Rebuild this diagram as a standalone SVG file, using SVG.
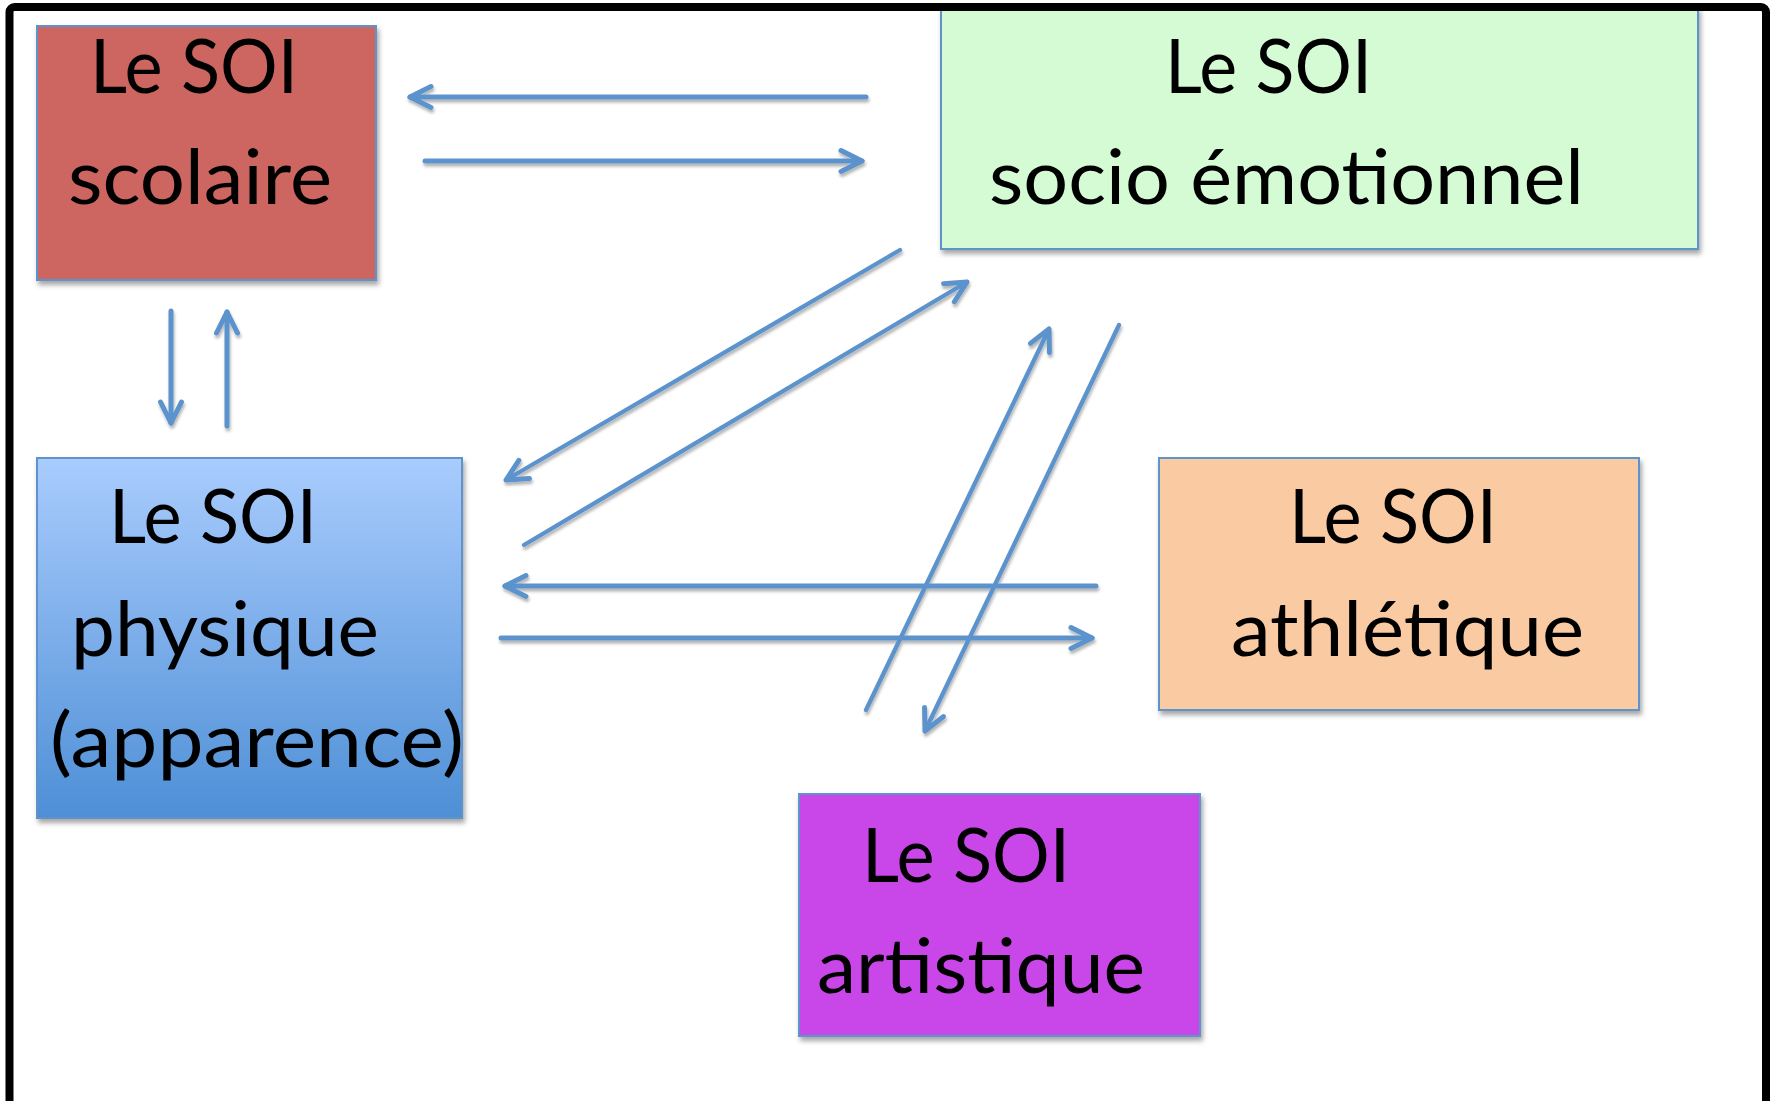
<svg xmlns="http://www.w3.org/2000/svg" width="1776" height="1101" viewBox="0 0 1776 1101">
<style>
.box{stroke:#5E93CB;stroke-width:2;filter:url(#shadow)}
.lbl{font-family:Lato,"Open Sans","Liberation Sans",sans-serif;font-size:76px;fill:#000}
.conn line{stroke:#5B93CC;stroke-width:5;stroke-linecap:round;fill:none;marker-end:url(#arr)}
.conn .d{stroke-width:4.3}
</style>
<defs>
<filter id="shadow" x="-10%" y="-10%" width="130%" height="130%">
<feDropShadow dx="2" dy="4" stdDeviation="2.5" flood-color="#000" flood-opacity="0.35"/>
</filter>
<filter id="lshadow" x="-10%" y="-10%" width="130%" height="130%">
<feDropShadow dx="1" dy="3" stdDeviation="1.5" flood-color="#000" flood-opacity="0.3"/>
</filter>
<linearGradient id="gBlue" x1="0" y1="0" x2="0" y2="1">
<stop offset="0" stop-color="#A9CCFD"/>
<stop offset="1" stop-color="#4E8FD6"/>
</linearGradient>
<marker id="arr" markerUnits="userSpaceOnUse" viewBox="-28 -16 32 32" markerWidth="32" markerHeight="32" refX="0" refY="0" orient="auto">
<path d="M-21,-10.5 L0,0 L-21,10.5" fill="none" stroke="#5B93CC" stroke-width="5" stroke-linecap="round" stroke-linejoin="round"/>
</marker>
</defs>
<rect x="0" y="0" width="1776" height="1101" fill="#fff"/>

<g id="node-scolaire">
<rect class="box" x="37" y="26" width="339" height="254" fill="#CD6660"/>
<text class="lbl" x="90" y="93" textLength="208" lengthAdjust="spacingAndGlyphs">Le SOI</text>
<text class="lbl" x="68" y="204" textLength="264" lengthAdjust="spacingAndGlyphs">scolaire</text>
</g>

<g id="node-socio">
<rect class="box" x="941" y="8" width="757" height="241" fill="#D5FBD5"/>
<text class="lbl" x="1165" y="93" textLength="207" lengthAdjust="spacingAndGlyphs">Le SOI</text>
<text class="lbl" x="989" y="204" textLength="595" lengthAdjust="spacingAndGlyphs">socio émotionnel</text>
</g>

<g id="node-physique">
<rect class="box" x="37" y="458" width="425" height="360" fill="url(#gBlue)"/>
<text class="lbl" x="109" y="543" textLength="208" lengthAdjust="spacingAndGlyphs">Le SOI</text>
<text class="lbl" x="71" y="656" textLength="308" lengthAdjust="spacingAndGlyphs">physique</text>
<text class="lbl" x="50" y="767" textLength="414" lengthAdjust="spacingAndGlyphs">(apparence)</text>
</g>

<g id="node-athletique">
<rect class="box" x="1159" y="458" width="480" height="252" fill="#FACBA3"/>
<text class="lbl" x="1289" y="543" textLength="208" lengthAdjust="spacingAndGlyphs">Le SOI</text>
<text class="lbl" x="1231" y="656" textLength="353" lengthAdjust="spacingAndGlyphs">athlétique</text>
</g>

<g id="node-artistique">
<rect class="box" x="799" y="794" width="401" height="242" fill="#C947E8"/>
<text class="lbl" x="862" y="882" textLength="208" lengthAdjust="spacingAndGlyphs">Le SOI</text>
<text class="lbl" x="817" y="993" textLength="328" lengthAdjust="spacingAndGlyphs">artistique</text>
</g>

<g id="connectors" class="conn" filter="url(#lshadow)">
<line x1="866" y1="97" x2="410" y2="97"/>
<line x1="425" y1="161" x2="862" y2="161"/>
<line x1="171" y1="311" x2="171" y2="423"/>
<line x1="227" y1="426" x2="227" y2="312"/>
<line class="d" x1="900" y1="250" x2="506" y2="480"/>
<line class="d" x1="524" y1="545" x2="967" y2="282"/>
<line class="d" x1="866" y1="710" x2="1049" y2="329"/>
<line class="d" x1="1119" y1="325" x2="925" y2="731"/>
<line x1="1096" y1="586" x2="505" y2="586"/>
<line x1="501" y1="638" x2="1092" y2="638"/>
</g>

<rect id="frame" x="9.5" y="7" width="1756.5" height="1200" rx="5" fill="none" stroke="#000" stroke-width="8"/>
</svg>
